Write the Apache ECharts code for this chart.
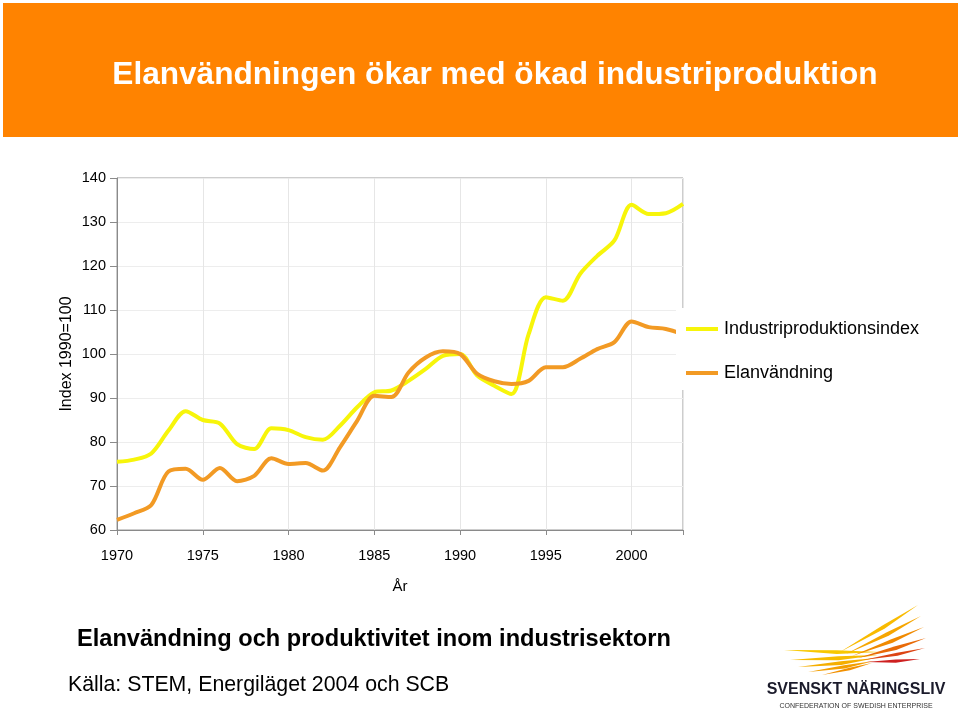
<!DOCTYPE html>
<html>
<head>
<meta charset="utf-8">
<script src="https://cdn.jsdelivr.net/npm/echarts@6/dist/echarts.min.js"></script>
<style>
html,body{margin:0;padding:0;background:#fff;}
#chart{width:960px;height:712px;}
</style>
</head>
<body>
<div id="chart"></div>
<script>
var years = [1970,1971,1972,1973,1974,1975,1976,1977,1978,1979,1980,1981,1982,1983,1984,1985,1986,1987,1988,1989,1990,1991,1992,1993,1994,1995,1996,1997,1998,1999,2000,2001,2002,2003];
var industriproduktion = [75.5,76.0,77.4,82.6,87.0,85.0,84.2,79.5,78.4,83.1,82.7,81.1,80.5,83.7,87.9,91.3,91.7,93.9,96.6,99.6,100.0,95.1,92.8,90.9,104.5,112.9,112.1,118.2,122.3,125.8,133.9,131.8,132.0,134.1];
var elanvandning = [62.3,63.8,65.7,73.3,73.9,71.4,74.1,71.1,72.3,76.3,75.0,75.2,73.5,78.8,84.8,90.5,90.2,95.8,99.2,100.6,100.0,95.5,93.8,93.2,93.9,97.0,97.0,98.9,101.1,102.7,107.4,106.1,105.7,104.5];
var seriesNames = ['Industriproduktionsindex','Elanvändning'];
var yTicks = {min:60, max:140, interval:10};
var xTicks = {min:1970, max:2003, interval:5};
var texts = {
  title: 'Elanvändningen ökar med ökad industriproduktion',
  subtitle: 'Elanvändning och produktivitet inom industrisektorn',
  source: 'Källa: STEM, Energiläget 2004 och SCB',
  yName: 'Index 1990=100',
  xName: 'År',
  logo1: 'SVENSKT NÄRINGSLIV',
  logo2: 'CONFEDERATION OF SWEDISH ENTERPRISE'
};

function pairs(xs, ys){ return xs.map(function(x,i){ return [x, ys[i]]; }); }

var FONT = 'Liberation Sans, Arial, Helvetica, sans-serif';
var chart = echarts.init(document.getElementById('chart'), null, {renderer:'canvas'});

function feather(x1,y1,x2,y2,w,color){
  var dx=x2-x1, dy=y2-y1, L=Math.sqrt(dx*dx+dy*dy), nx=-dy/L*w, ny=dx/L*w;
  return {type:'polygon', silent:true, shape:{points:[[x1,y1],[x1+dx*0.55+nx,y1+dy*0.55+ny],[x2,y2],[x1+dx*0.55-nx*0.3,y1+dy*0.55-ny*0.3]]}, style:{fill:color}};
}

var wings = [
  feather(784,650,880,652,3,'#F8C800'),
  feather(790,660,878,655,3,'#F7BC00'),
  feather(798,667,876,658,3,'#F5AE00'),
  feather(808,672,874,661,2.5,'#F39E00'),
  feather(822,675,872,663,2,'#F29000'),
  feather(840,652,918,605,3,'#F9BB00'),
  feather(846,654,921,616,3,'#F6A600'),
  feather(852,656,924,627,3,'#F08A00'),
  feather(858,658,926,638,3,'#E86A08'),
  feather(863,660,925,648,2.5,'#DC4414'),
  feather(866,662,920,659,2.5,'#CE2020')
];

var option = {
  backgroundColor:'#ffffff',
  animation:false,
  title:[
    {text:texts.title, left:490, top:70, textAlign:'center', textVerticalAlign:'middle',
     textStyle:{color:'#ffffff', fontSize:31.6, fontWeight:'bold', fontFamily:FONT}},
    {text:texts.subtitle, left:72, top:622,
     textStyle:{color:'#000000', fontSize:23.6, fontWeight:'bold', fontFamily:FONT}},
    {text:texts.source, left:63, top:670,
     textStyle:{color:'#000000', fontSize:21.3, fontWeight:'normal', fontFamily:FONT}}
  ],
  graphic:[
    {type:'rect', z:-10, silent:true, shape:{x:3,y:3,width:955,height:134}, style:{fill:'#FF8300'}},
    {type:'group', children: wings.concat([
      {type:'text', silent:true, style:{text:texts.logo1, x:856, y:690, align:'center', verticalAlign:'middle', fill:'#1b1b2b', font:'bold 16px '+FONT}},
      {type:'text', silent:true, style:{text:texts.logo2, x:856, y:706, align:'center', verticalAlign:'middle', fill:'#333', font:'7px '+FONT}}
    ])}
  ],
  grid:{left:117, right:277, top:178, bottom:182, show:true, borderColor:'#9a9a9a', borderWidth:1, backgroundColor:'rgba(0,0,0,0)'},
  legend:{
    orient:'vertical', left:676, top:308, z:20,
    backgroundColor:'#ffffff', padding:[12,10,8,10],
    itemWidth:32, itemHeight:4, itemGap:26, icon:'rect',
    textStyle:{fontSize:18, color:'#000', fontFamily:FONT, padding:[0,0,0,1]},
    data:seriesNames
  },
  xAxis:{
    type:'value', min:xTicks.min, max:xTicks.max, interval:xTicks.interval,
    name:texts.xName, nameLocation:'middle', nameGap:49, nameMoveOverlap:false,
    nameTextStyle:{fontSize:15, color:'#000', fontFamily:FONT},
    axisLine:{show:true, lineStyle:{color:'#8a8a8a', width:1}},
    axisTick:{show:true, length:5, lineStyle:{color:'#8a8a8a'}},
    axisLabel:{margin:18, fontSize:14.5, color:'#000', fontFamily:FONT,
      formatter:function(v){ return (v % 5 === 0) ? String(v) : ''; }},
    splitLine:{show:true, lineStyle:{color:'#e6e6e6', width:1}}
  },
  yAxis:{
    type:'value', min:yTicks.min, max:yTicks.max, interval:yTicks.interval,
    name:texts.yName, nameLocation:'middle', nameGap:42, nameRotate:90, nameMoveOverlap:false,
    nameTextStyle:{fontSize:16, color:'#000', fontFamily:FONT},
    axisLine:{show:true, lineStyle:{color:'#8a8a8a', width:1}},
    axisTick:{show:true, length:7, lineStyle:{color:'#8a8a8a'}},
    axisLabel:{margin:11, fontSize:14.5, color:'#000', fontFamily:FONT},
    splitLine:{show:true, lineStyle:{color:'#ededed', width:1}}
  },
  series:[
    {name:seriesNames[0], type:'line', data:pairs(years, industriproduktion), smooth:0.3, showSymbol:false, symbol:'none',
     lineStyle:{color:'#F7F50A', width:4}, itemStyle:{color:'#F7F50A'}, z:3},
    {name:seriesNames[1], type:'line', data:pairs(years, elanvandning), smooth:0.3, showSymbol:false, symbol:'none',
     lineStyle:{color:'#F29A24', width:4}, itemStyle:{color:'#F29A24'}, z:4}
  ]
};
chart.setOption(option);
</script>
</body>
</html>
